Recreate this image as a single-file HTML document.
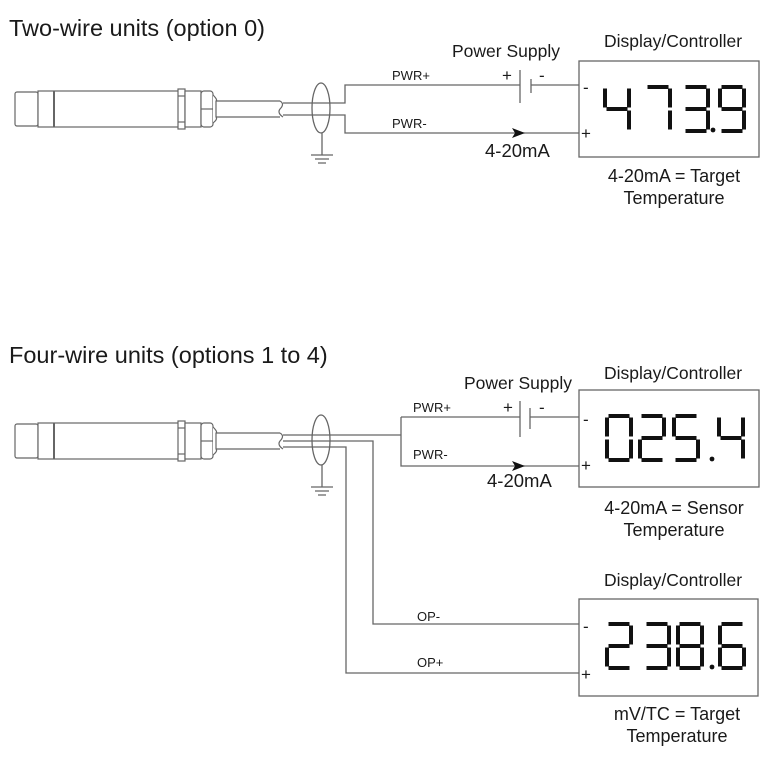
<!DOCTYPE html>
<html><head><meta charset="utf-8"><style>
html,body{margin:0;padding:0;background:#fff}
svg{display:block}
text{font-family:"Liberation Sans",Arial,sans-serif;fill:#1a1a1a}
</style></head><body>
<svg width="767" height="767" viewBox="0 0 767 767" xmlns="http://www.w3.org/2000/svg">
<rect width="767" height="767" fill="#fff"/>
<text x="9" y="36" font-size="23.5">Two-wire units (option 0)</text>
<text x="9" y="363" font-size="23.5">Four-wire units (options 1 to 4)</text>

<g fill="#fff" stroke="#666" stroke-width="1.2">
<rect x="15" y="92" width="23" height="34" rx="2"/>
<rect x="38" y="91" width="142" height="36"/>
<line x1="54" y1="91" x2="54" y2="127" stroke-width="2"/>
<rect x="178" y="89" width="7" height="40"/>
<line x1="178" y1="96" x2="185" y2="96"/><line x1="178" y1="122" x2="185" y2="122"/>
<rect x="185" y="91" width="16" height="36"/>
<rect x="201" y="91" width="12" height="36" rx="3"/>
<line x1="201" y1="109" x2="213" y2="109"/>
<path d="M213 95 Q218 100 216 101 L216 117 Q218 119 213 123"/>
<line x1="216" y1="101" x2="280" y2="101"/><line x1="216" y1="117" x2="280" y2="117"/>
<path d="M280 101 Q285 104 280 109 Q277 113 283 117" fill="none"/>
</g>
<g fill="#fff" stroke="#666" stroke-width="1.2" transform="translate(0,332)">
<rect x="15" y="92" width="23" height="34" rx="2"/>
<rect x="38" y="91" width="142" height="36"/>
<line x1="54" y1="91" x2="54" y2="127" stroke-width="2"/>
<rect x="178" y="89" width="7" height="40"/>
<line x1="178" y1="96" x2="185" y2="96"/><line x1="178" y1="122" x2="185" y2="122"/>
<rect x="185" y="91" width="16" height="36"/>
<rect x="201" y="91" width="12" height="36" rx="3"/>
<line x1="201" y1="109" x2="213" y2="109"/>
<path d="M213 95 Q218 100 216 101 L216 117 Q218 119 213 123"/>
<line x1="216" y1="101" x2="280" y2="101"/><line x1="216" y1="117" x2="280" y2="117"/>
<path d="M280 101 Q285 104 280 109 Q277 113 283 117" fill="none"/>
</g>

<g fill="none" stroke="#666" stroke-width="1.3">
<path d="M283 103 H345 V85 H520"/>
<path d="M531 85 H579"/>
<path d="M283 115 H345 V133 H579"/>
<line x1="520" y1="70" x2="520" y2="103"/>
<line x1="531" y1="79" x2="531" y2="93"/>
<ellipse cx="321" cy="108" rx="9" ry="25"/>
<path d="M322 133 V155 M311 155 H333 M315 159 H329 M318 163 H326"/>
<rect x="579" y="61" width="180" height="96"/>
<path d="M283 435 H401"/>
<path d="M401 417 V466 H579"/>
<path d="M401 417 H520 M530 417 H579"/>
<line x1="520" y1="401" x2="520" y2="437"/>
<line x1="530" y1="408" x2="530" y2="429"/>
<path d="M283 441 H373 V624 H579"/>
<path d="M283 447 H346 V673 H579"/>
<ellipse cx="321" cy="440" rx="9" ry="25"/>
<path d="M322 465 V487 M311 487 H333 M315 491 H329 M318 495 H326"/>
<rect x="579" y="390" width="180" height="97"/>
<rect x="579" y="599" width="179" height="97"/>
</g>
<path d="M512 128 L525 133 L512 138 L515 133 Z" fill="#111"/>
<path d="M512 461 L525 466 L512 471 L515 466 Z" fill="#111"/>

<g font-size="13">
<text x="392" y="80">PWR+</text><text x="392" y="128">PWR-</text>
<text x="413" y="412">PWR+</text><text x="413" y="459">PWR-</text>
<text x="417" y="621">OP-</text><text x="417" y="667">OP+</text>
</g>
<g font-size="17">
<text x="502" y="81">+</text><text x="539" y="81">-</text>
<text x="503" y="413">+</text><text x="539" y="413">-</text>
<text x="583" y="93">-</text><text x="581" y="139">+</text>
<text x="583" y="425">-</text><text x="581" y="471">+</text>
<text x="583" y="632">-</text><text x="581" y="680">+</text>
</g>
<g font-size="17.5">
<text x="452" y="57">Power Supply</text>
<text x="464" y="389">Power Supply</text>
<text x="604" y="47">Display/Controller</text>
<text x="604" y="379">Display/Controller</text>
<text x="604" y="586">Display/Controller</text>
</g>
<g font-size="18.5">
<text x="485" y="157">4-20mA</text>
<text x="487" y="487">4-20mA</text>
</g>
<g font-size="18">
<text x="674" y="182" text-anchor="middle">4-20mA = Target</text>
<text x="674" y="204" text-anchor="middle">Temperature</text>
<text x="674" y="514" text-anchor="middle">4-20mA = Sensor</text>
<text x="674" y="536" text-anchor="middle">Temperature</text>
<text x="677" y="720" text-anchor="middle">mV/TC = Target</text>
<text x="677" y="742" text-anchor="middle">Temperature</text>
</g>

<g fill="none" stroke="#111" stroke-width="4" stroke-linecap="butt">
<path transform="translate(603,85)" d="M2 3.5V22.5 M3.5 24H24.5 M26 3.5V22.5 M26 25.5V44.5"/>
<path transform="translate(644,85)" d="M3.5 2H24.5 M26 3.5V22.5 M26 25.5V44.5"/>
<path transform="translate(682,85)" d="M3.5 2H24.5 M26 3.5V22.5 M3.5 24H24.5 M26 25.5V44.5 M3.5 46H24.5"/>
<path transform="translate(718,85)" d="M3.5 2H24.5 M26 3.5V22.5 M26 25.5V44.5 M3.5 46H24.5 M2 3.5V22.5 M3.5 24H24.5"/>
<path transform="translate(605,414)" d="M3.5 2H24.5 M26 3.5V22.5 M26 25.5V44.5 M3.5 46H24.5 M2 25.5V44.5 M2 3.5V22.5"/>
<path transform="translate(638,414)" d="M3.5 2H24.5 M26 3.5V22.5 M3.5 24H24.5 M2 25.5V44.5 M3.5 46H24.5"/>
<path transform="translate(672,414)" d="M3.5 2H24.5 M2 3.5V22.5 M3.5 24H24.5 M26 25.5V44.5 M3.5 46H24.5"/>
<path transform="translate(717,414)" d="M2 3.5V22.5 M3.5 24H24.5 M26 3.5V22.5 M26 25.5V44.5"/>
<path transform="translate(605,622)" d="M3.5 2H24.5 M26 3.5V22.5 M3.5 24H24.5 M2 25.5V44.5 M3.5 46H24.5"/>
<path transform="translate(643,622)" d="M3.5 2H24.5 M26 3.5V22.5 M3.5 24H24.5 M26 25.5V44.5 M3.5 46H24.5"/>
<path transform="translate(676,622)" d="M3.5 2H24.5 M26 3.5V22.5 M26 25.5V44.5 M3.5 46H24.5 M2 25.5V44.5 M2 3.5V22.5 M3.5 24H24.5"/>
<path transform="translate(718,622)" d="M3.5 2H24.5 M2 3.5V22.5 M3.5 24H24.5 M2 25.5V44.5 M26 25.5V44.5 M3.5 46H24.5"/>
</g>
<g fill="#111">
<circle cx="713" cy="130" r="2.4"/>
<circle cx="712" cy="459" r="2.4"/>
<circle cx="712" cy="667" r="2.4"/>
</g>
</svg>
</body></html>
